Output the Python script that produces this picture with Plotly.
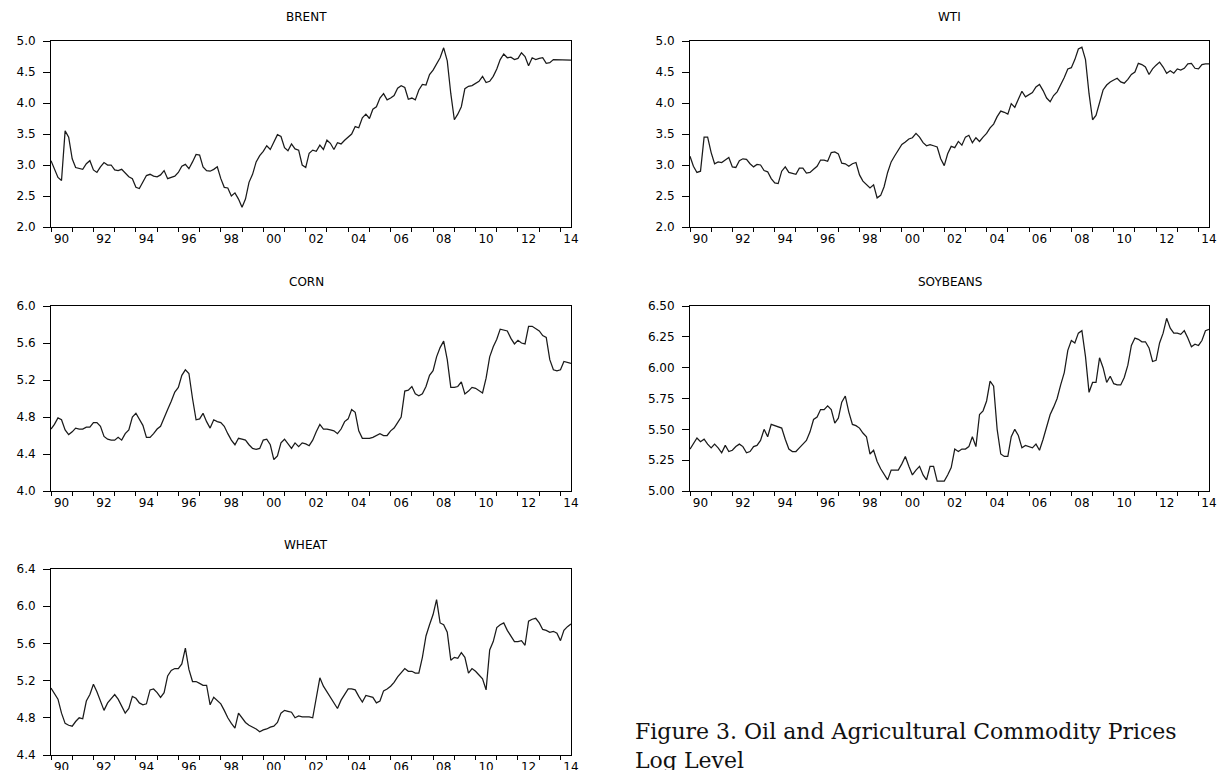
import plotly.graph_objects as go
import pandas as pd

# Bimonthly observations, Jan 1990 .. Jul 2014 (log price levels)
BRENT = [
    3.07, 2.95, 2.80, 2.75, 3.55, 3.45,
    3.10, 2.96, 2.95, 2.93, 3.02, 3.07,
    2.92, 2.88, 2.97, 3.04, 3.00, 3.00,
    2.92, 2.91, 2.93, 2.87, 2.81, 2.78,
    2.64, 2.62, 2.73, 2.83, 2.85, 2.82,
    2.81, 2.84, 2.91, 2.78, 2.80, 2.82,
    2.88, 2.98, 3.01, 2.94, 3.05, 3.17,
    3.16, 2.97, 2.91, 2.90, 2.93, 2.97,
    2.78, 2.64, 2.63, 2.50, 2.55, 2.45,
    2.32, 2.45, 2.72, 2.85, 3.05, 3.15,
    3.22, 3.31, 3.25, 3.38, 3.49, 3.46,
    3.28, 3.23, 3.34, 3.26, 3.24, 3.00,
    2.96, 3.19, 3.24, 3.22, 3.32, 3.25,
    3.40, 3.35, 3.25, 3.36, 3.34, 3.40,
    3.45, 3.50, 3.62, 3.60, 3.76, 3.82,
    3.75, 3.90, 3.94, 4.08, 4.15, 4.05,
    4.08, 4.12, 4.24, 4.28, 4.25, 4.06,
    4.08, 4.05, 4.21, 4.30, 4.29, 4.46,
    4.53, 4.62, 4.73, 4.89, 4.68, 4.15,
    3.73, 3.82, 3.94, 4.23, 4.27, 4.28,
    4.31, 4.35, 4.43, 4.33, 4.35, 4.43,
    4.55, 4.70, 4.79, 4.73, 4.74, 4.70,
    4.72, 4.81, 4.75, 4.60, 4.73, 4.70,
    4.72, 4.73, 4.64, 4.65, 4.70, 4.70,
    4.69, 4.70, 4.69, 4.69,
]

WTI = [
    3.14, 2.98, 2.88, 2.90, 3.45, 3.45,
    3.20, 3.02, 3.05, 3.04, 3.08, 3.12,
    2.97, 2.96, 3.07, 3.10, 3.09, 3.02,
    2.97, 3.01, 3.00, 2.91, 2.89, 2.78,
    2.71, 2.70, 2.90, 2.97, 2.88, 2.87,
    2.85, 2.95, 2.95, 2.87, 2.88, 2.93,
    2.98, 3.08, 3.08, 3.06, 3.20, 3.21,
    3.18, 3.03, 3.02, 2.98, 3.02, 3.04,
    2.84, 2.74, 2.69, 2.63, 2.68, 2.47,
    2.51, 2.65, 2.88, 3.05, 3.15, 3.25,
    3.33, 3.37, 3.42, 3.44, 3.51, 3.45,
    3.36, 3.31, 3.33, 3.31, 3.29, 3.10,
    2.99, 3.18, 3.30, 3.28, 3.38, 3.32,
    3.45, 3.48, 3.36, 3.44, 3.38, 3.45,
    3.51, 3.60, 3.66, 3.78, 3.87, 3.85,
    3.82, 3.99, 3.93, 4.06, 4.19, 4.10,
    4.13, 4.17, 4.26, 4.30, 4.20, 4.08,
    4.02, 4.12, 4.18, 4.29, 4.41, 4.55,
    4.57, 4.70, 4.87, 4.90, 4.70, 4.15,
    3.73, 3.80, 4.00, 4.21, 4.29, 4.34,
    4.37, 4.40, 4.34, 4.32, 4.38, 4.46,
    4.50, 4.64, 4.62, 4.58, 4.46, 4.55,
    4.61, 4.66, 4.58, 4.48, 4.52, 4.48,
    4.55, 4.53, 4.56, 4.63, 4.64, 4.56,
    4.55, 4.62, 4.63, 4.63,
]

CORN = [
    4.67, 4.72, 4.79, 4.77, 4.66, 4.61,
    4.64, 4.68, 4.67, 4.67, 4.69, 4.69,
    4.74, 4.74, 4.70, 4.59, 4.56, 4.55,
    4.55, 4.58, 4.55, 4.62, 4.66, 4.80,
    4.84, 4.78, 4.71, 4.58, 4.58, 4.62,
    4.67, 4.70, 4.80, 4.88, 4.97, 5.07,
    5.12, 5.25, 5.31, 5.27, 5.00, 4.77,
    4.78, 4.84, 4.75, 4.68, 4.77, 4.75,
    4.74, 4.70, 4.62, 4.55, 4.50, 4.57,
    4.56, 4.55, 4.50, 4.46, 4.45, 4.46,
    4.55, 4.56, 4.50, 4.34, 4.38, 4.52,
    4.56, 4.51, 4.46, 4.52, 4.48, 4.52,
    4.51, 4.49, 4.55, 4.64, 4.72, 4.67,
    4.67, 4.66, 4.65, 4.62, 4.67, 4.75,
    4.78, 4.88, 4.85, 4.65, 4.57, 4.57,
    4.57, 4.58, 4.60, 4.62, 4.60, 4.60,
    4.65, 4.68, 4.74, 4.80, 5.08, 5.09,
    5.13, 5.05, 5.03, 5.05, 5.13, 5.25,
    5.30, 5.45, 5.55, 5.62, 5.42, 5.12,
    5.12, 5.13, 5.18, 5.05, 5.08, 5.12,
    5.11, 5.09, 5.06, 5.22, 5.45, 5.56,
    5.64, 5.75, 5.74, 5.73, 5.65, 5.59,
    5.63, 5.60, 5.59, 5.78, 5.78, 5.75,
    5.73, 5.68, 5.66, 5.42, 5.31, 5.30,
    5.31, 5.40, 5.39, 5.38,
]

SOYBEANS = [
    5.34, 5.39, 5.43, 5.40, 5.42, 5.38,
    5.35, 5.38, 5.35, 5.31, 5.37, 5.32,
    5.33, 5.36, 5.38, 5.36, 5.31, 5.32,
    5.36, 5.37, 5.41, 5.50, 5.44, 5.54,
    5.53, 5.52, 5.51, 5.42, 5.34, 5.32,
    5.32, 5.35, 5.38, 5.41, 5.48, 5.58,
    5.60, 5.66, 5.66, 5.69, 5.66, 5.55,
    5.59, 5.72, 5.77, 5.64, 5.54, 5.53,
    5.51, 5.47, 5.44, 5.30, 5.33, 5.24,
    5.18, 5.14, 5.09, 5.17, 5.17, 5.17,
    5.22, 5.28, 5.20, 5.13, 5.17, 5.20,
    5.13, 5.09, 5.20, 5.20, 5.08, 5.08,
    5.08, 5.13, 5.19, 5.34, 5.32, 5.34,
    5.34, 5.36, 5.44, 5.36, 5.62, 5.65,
    5.73, 5.89, 5.85, 5.50, 5.30, 5.28,
    5.28, 5.44, 5.50, 5.45, 5.35, 5.37,
    5.36, 5.35, 5.38, 5.33, 5.42, 5.52,
    5.62, 5.68, 5.75, 5.86, 5.96, 6.14,
    6.22, 6.20, 6.28, 6.30, 6.09, 5.80,
    5.88, 5.88, 6.08, 6.00, 5.88, 5.93,
    5.87, 5.86, 5.86, 5.92, 6.02, 6.18,
    6.24, 6.23, 6.21, 6.21, 6.16, 6.05,
    6.06, 6.20, 6.28, 6.40, 6.32, 6.28,
    6.28, 6.27, 6.30, 6.24, 6.17, 6.19,
    6.18, 6.22, 6.30, 6.31,
]

WHEAT = [
    5.12, 5.06, 5.00, 4.85, 4.74, 4.72,
    4.71, 4.76, 4.80, 4.79, 4.98, 5.05,
    5.16, 5.08, 4.99, 4.88, 4.96, 5.01,
    5.05, 5.00, 4.93, 4.85, 4.90, 5.03,
    5.01, 4.96, 4.94, 4.95, 5.10, 5.11,
    5.07, 5.02, 5.07, 5.25, 5.31, 5.33,
    5.33, 5.38, 5.55, 5.32, 5.19, 5.19,
    5.17, 5.15, 5.15, 4.94, 5.02, 4.98,
    4.95, 4.88, 4.80, 4.74, 4.69, 4.85,
    4.80, 4.75, 4.72, 4.70, 4.68, 4.65,
    4.67, 4.68, 4.70, 4.71, 4.75, 4.85,
    4.88, 4.87, 4.86, 4.80, 4.82, 4.81,
    4.81, 4.81, 4.80, 5.01, 5.23, 5.14,
    5.08, 5.01, 4.95, 4.90, 4.99, 5.05,
    5.11, 5.11, 5.10, 5.03, 4.97, 5.04,
    5.03, 5.02, 4.96, 4.98, 5.09, 5.11,
    5.14, 5.18, 5.24, 5.29, 5.33, 5.30,
    5.30, 5.28, 5.28, 5.45, 5.68, 5.80,
    5.91, 6.07, 5.82, 5.80, 5.72, 5.42,
    5.45, 5.44, 5.50, 5.45, 5.28, 5.33,
    5.30, 5.26, 5.22, 5.10, 5.53, 5.62,
    5.77, 5.80, 5.82, 5.74, 5.68, 5.62,
    5.62, 5.63, 5.58, 5.84, 5.86, 5.87,
    5.82, 5.75, 5.74, 5.72, 5.73, 5.71,
    5.63, 5.74, 5.78, 5.81,
]

YEAR_LABELS = ["90", "92", "94", "96", "98", "00", "02", "04", "06", "08", "10", "12", "14"]
LABEL_YEARS = list(range(1990, 2015, 2))
TICK_YEARS = list(range(1990, 2015))

Y_TICKS = {
    "BRENT": [2.0, 2.5, 3.0, 3.5, 4.0, 4.5, 5.0],
    "WTI": [2.0, 2.5, 3.0, 3.5, 4.0, 4.5, 5.0],
    "CORN": [4.0, 4.4, 4.8, 5.2, 5.6, 6.0],
    "SOYBEANS": [5.00, 5.25, 5.50, 5.75, 6.00, 6.25, 6.50],
    "WHEAT": [4.4, 4.8, 5.2, 5.6, 6.0, 6.4],
}
Y_FMT = {"BRENT": "{:.1f}", "WTI": "{:.1f}", "CORN": "{:.1f}", "SOYBEANS": "{:.2f}", "WHEAT": "{:.1f}"}

series = {"BRENT": BRENT, "WTI": WTI, "CORN": CORN, "SOYBEANS": SOYBEANS, "WHEAT": WHEAT}
dates = pd.date_range("1990-01-01", periods=len(BRENT), freq="2MS")

W, H = 1221, 770
# panel boxes in pixels: (left, right, top, bottom)
boxes = {
    "BRENT": (51, 571, 41, 227),
    "WTI": (690, 1209, 41, 227),
    "CORN": (51, 571, 306, 491),
    "SOYBEANS": (690, 1209, 306, 491),
    "WHEAT": (51, 571, 569, 755),
}
title_x = {"BRENT": 306, "CORN": 306, "WHEAT": 306, "WTI": 949, "SOYBEANS": 950}

FONT = "DejaVu Sans"
TICK_SIZE = 12
fig = go.Figure()
layout = dict(
    width=W, height=H, margin=dict(l=0, r=0, t=0, b=0, autoexpand=False),
    paper_bgcolor="white", plot_bgcolor="white", showlegend=False,
    font=dict(family=FONT, size=TICK_SIZE, color="black"),
)
annotations = []
for i, (name, vals) in enumerate(series.items(), start=1):
    suffix = "" if i == 1 else str(i)
    fig.add_trace(go.Scatter(
        x=dates, y=vals, mode="lines",
        line=dict(color="#1a1a1a", width=1.25),
        xaxis="x" + suffix, yaxis="y" + suffix, hoverinfo="skip",
    ))
    l, r, t, b = boxes[name]
    layout["xaxis" + suffix] = dict(
        domain=[l / W, r / W], anchor="y" + suffix,
        range=["1990-01-01", "2014-07-01"],
        tickmode="array",
        tickvals=[f"{y}-07-01" for y in LABEL_YEARS],
        ticktext=YEAR_LABELS,
        ticks="", showgrid=False, zeroline=False, automargin=False,
        showline=True, linecolor="black", linewidth=1, mirror=True,
        minor=dict(tickmode="array", tickvals=[f"{y}-01-01" for y in TICK_YEARS],
                   ticks="outside", ticklen=4, tickcolor="black", tickwidth=1, showgrid=False),
        tickfont=dict(family=FONT, size=TICK_SIZE, color="black"),
        ticklabelstandoff=1,
    )
    yt = Y_TICKS[name]
    layout["yaxis" + suffix] = dict(
        domain=[1 - b / H, 1 - t / H], anchor="x" + suffix,
        range=[yt[0], yt[-1]],
        tickmode="array", tickvals=yt, ticktext=[Y_FMT[name].format(v) for v in yt],
        ticks="outside", ticklen=7, tickcolor="black", tickwidth=1,
        showgrid=False, zeroline=False, automargin=False,
        showline=True, linecolor="black", linewidth=1, mirror=True,
        tickfont=dict(family=FONT, size=TICK_SIZE, color="black"),
        ticklabelstandoff=5,
    )
    annotations.append(dict(
        text=name, x=title_x[name] / W, y=1 - (t - 24) / H,
        xref="paper", yref="paper", xanchor="center", yanchor="middle",
        showarrow=False, font=dict(family=FONT, size=12, color="black"),
    ))

annotations.append(dict(
    text="Figure 3. Oil and Agricultural Commodity Prices", x=633 / W, y=1 - 731 / H,
    xref="paper", yref="paper", xanchor="left", yanchor="middle", showarrow=False,
    font=dict(family="DejaVu Serif", size=22, color="#111"),
))
annotations.append(dict(
    text="Log Level", x=633 / W, y=1 - 760 / H,
    xref="paper", yref="paper", xanchor="left", yanchor="middle", showarrow=False,
    font=dict(family="DejaVu Serif", size=22, color="#111"),
))
layout["annotations"] = annotations
fig.update_layout(**layout)
fig.write_html(
    "out.html",
    config={"displayModeBar": False, "staticPlot": True},
    post_script="document.body.style.margin='0';document.body.style.overflow='hidden';",
)
